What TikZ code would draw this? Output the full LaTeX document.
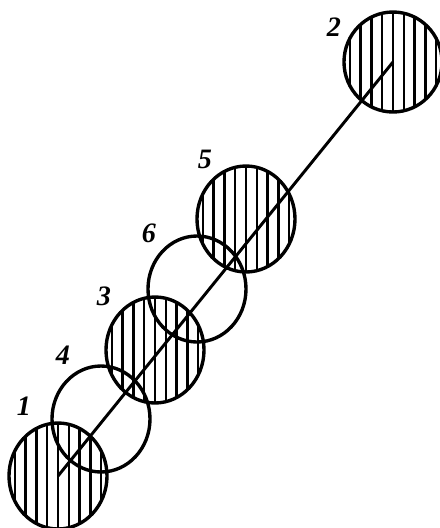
\documentclass[tikz,border=0pt]{standalone}
\usepackage{fontspec}
\setmainfont{Liberation Serif}
\usetikzlibrary{shapes.geometric}

\begin{document}
\begin{tikzpicture}[
    x=0.25mm, y=-0.25mm,
    ring/.style={ellipse, draw, line width=2.4pt, inner sep=0pt,
                 minimum width=24.5mm, minimum height=26.5mm},
    hatched/.style={ring, path picture={
        \foreach \k in {-6,...,6}
          \draw[line width=1.6pt] ([xshift=\k*2.7mm]path picture bounding box.center)
            ++(0,-16mm) -- ++(0,32mm);}},
    num/.style={font=\fontsize{20}{24}\selectfont\bfseries\itshape}
]
\useasboundingbox (0,0) rectangle (440,528);

% open circles
\node[ring] (c4) at (101,419) {};
\node[ring] (c6) at (197,289) {};

% hatched circles
\node[hatched] (c1) at (58,476) {};
\node[hatched] (c3) at (155,350) {};
\node[hatched] (c5) at (246,219) {};
\node[hatched, minimum height=25mm] (c2) at (393,62) {};

% axis
\draw[line width=2.1pt] (c1.center) -- (c2.center);

% numbers
\node[num] (n1) at (24,406) {1};
\node[num] (n4) at (63,355) {4};
\node[num] (n3) at (104,296) {3};
\node[num] (n6) at (149,233) {6};
\node[num] (n5) at (205,159) {5};
\node[num] (n2) at (334,27) {2};
\end{tikzpicture}
\end{document}
